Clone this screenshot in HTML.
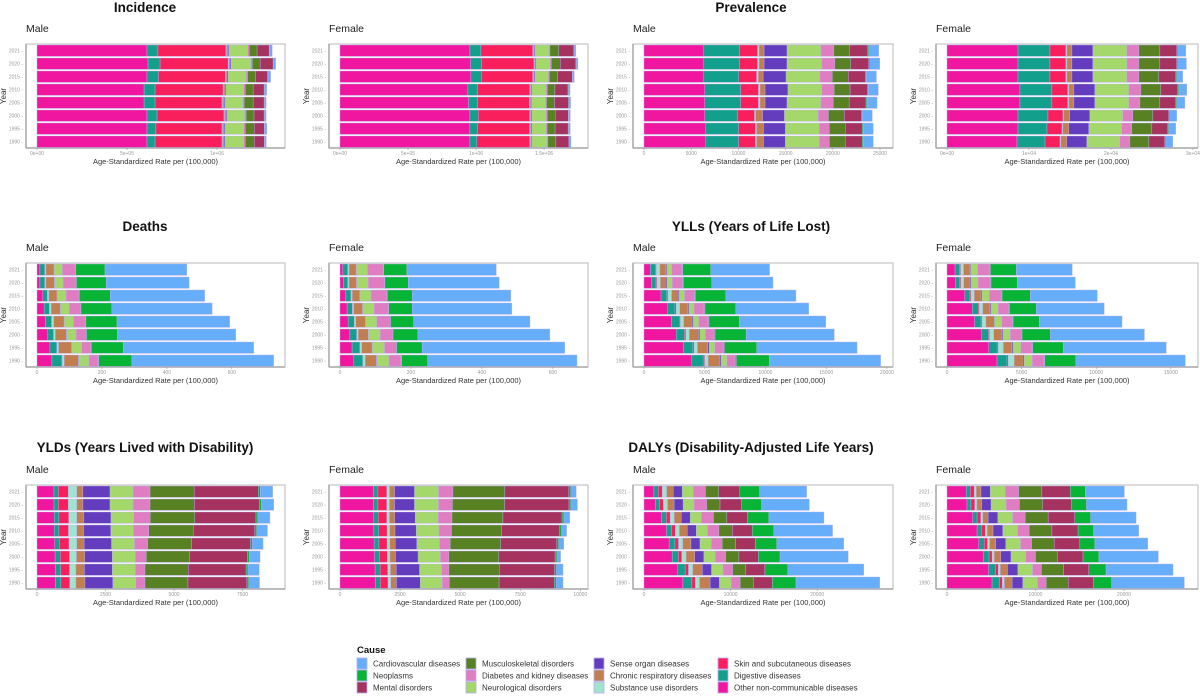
<!DOCTYPE html>
<html><head><meta charset="utf-8">
<style>
html,body{margin:0;padding:0;background:#fff;}
svg{display:block;font-family:"Liberation Sans",Arial,sans-serif;}
</style></head>
<body>
<svg id="chart" width="1200" height="696" viewBox="0 0 1200 696" xmlns="http://www.w3.org/2000/svg"></svg>
<script>
// ---- data ----
const years = ["2021","2020","2015","2010","2005","2000","1995","1990"];
const causes = ["Other non-communicable diseases","Digestive diseases","Skin and subcutaneous diseases","Substance use disorders","Chronic respiratory diseases","Sense organ diseases","Neurological disorders","Diabetes and kidney diseases","Musculoskeletal disorders","Mental disorders","Neoplasms","Cardiovascular diseases"];
const causeColors = ["#F0169F","#12A08C","#F81F5C","#9FE4CE","#C17F50","#643CBE","#A4D86A","#E07DC2","#588124","#A5325F","#08B436","#66AEF9"];

const incMale = [
[611,61,378,3,6,6,106,8,44,67,3,14],
[617,67,378,3,6,6,111,8,44,72,3,11],
[611,64,372,3,6,6,100,8,44,67,3,14],
[595,61,378,3,6,6,100,8,44,61,3,11],
[595,61,372,3,6,6,100,8,50,61,3,8],
[611,56,372,3,6,6,100,8,44,56,3,8],
[611,50,367,3,6,6,106,8,50,56,3,11],
[611,45,372,3,6,6,106,8,50,56,3,8]];
const incFemale = [
[955,81,382,4,4,7,103,7,66,110,4,11],
[960,81,385,4,4,7,105,7,66,115,4,11],
[962,77,378,4,4,7,100,7,62,106,4,11],
[940,70,386,4,4,7,106,7,56,96,4,11],
[945,66,382,4,4,7,103,7,59,103,4,11],
[955,62,378,4,4,7,106,7,59,96,4,11],
[955,55,384,4,4,7,106,7,59,96,4,11],
[955,51,390,4,4,7,110,7,59,96,4,11]];
const prevMale = [
[6330,3800,1900,160,530,2430,3590,1370,1690,1900,110,1060],
[6330,3800,1900,160,530,2430,3690,1370,1690,1900,110,1060],
[6330,3700,1900,160,530,2430,3590,1300,1690,1820,110,1060],
[6430,3800,1900,160,530,2430,3590,1300,1690,1820,110,1060],
[6430,3800,1900,160,530,2330,3590,1300,1690,1790,110,1060],
[6440,3480,1790,110,740,2320,3590,1060,1690,1790,110,1060],
[6540,3480,1790,110,740,2320,3590,1060,1690,1790,110,1060],
[6540,3480,1790,110,740,2320,3590,1060,1690,1790,110,1060]];
const prevFemale = [
[8660,3900,1950,120,610,2560,4150,1460,2560,2070,120,980],
[8660,3900,1950,120,610,2560,4150,1460,2560,2070,120,1050],
[8660,3900,1950,120,610,2560,4150,1460,2440,2070,120,730],
[8900,3900,1950,120,610,2560,4150,1460,2440,2070,120,980],
[8900,3900,1950,120,610,2560,4150,1340,2440,1950,120,980],
[8660,3660,1830,100,730,2440,4030,1220,2440,1950,100,860],
[8660,3540,1830,100,730,2440,4030,1220,2440,1950,100,860],
[8540,3420,1830,100,730,2440,4030,1220,2320,1950,100,860]];
const deathMale = [
[9,15,0.5,3,25,1,25,40,0.5,0.5,90,252],
[9,15,0.5,3,26,1,26,40,0.5,0.5,92,255],
[18,14,0.5,4,25,1,27,40,0.5,0.5,95,291],
[22,16,0.5,5,28,1,27,35,0.5,0.5,95,309],
[26,19,0.5,6,32,1,28,37,0.5,0.5,96,347],
[33,18,0.5,5,34,1,29,31,0.5,0.5,95,365],
[40,21,0.5,5,40,1,30,29,0.5,0.5,98,402],
[46,31,1,6,43,2,31,28,1,1,102,437]];
const deathFemale = [
[8,14,0.5,3,20,1,31,45,0.5,0.5,65,252],
[9,13,0.5,3,21,1,32,46,0.5,0.5,66,256],
[16,15,0.5,3,21,1,31,45,0.5,0.5,70,278],
[20,15,0.5,3,25,1,32,40,0.5,0.5,66,281],
[23,17,0.5,4,27,1,31,38,0.5,0.5,65,328],
[28,19,0.5,4,28,1,33,35,0.5,0.5,70,372],
[34,22,0.5,5,29,1,34,33,0.5,0.5,72,402],
[39,25,1,6,31,2,34,34,1,1,73,421]];
const yllMale = [
[530,410,80,290,490,80,410,820,40,40,2300,4850],
[600,390,80,280,480,80,420,830,40,40,2340,5040],
[1400,480,90,300,560,80,430,810,40,40,2500,5780],
[1950,600,100,290,650,90,440,800,50,50,2540,6000],
[2250,650,100,260,700,90,450,750,50,50,2500,7120],
[2650,680,110,290,760,100,460,700,50,50,2560,7250],
[3250,760,110,280,850,110,470,680,60,60,2650,8260],
[3930,940,120,290,940,120,490,660,60,60,2710,9160]];
const yllFemale = [
[540,300,70,200,400,70,470,800,30,30,1740,3740],
[560,290,70,200,420,70,470,810,30,30,1760,3890],
[1200,340,70,220,450,70,480,800,30,30,1900,4480],
[1700,400,70,230,470,70,490,700,30,30,1800,4540],
[1850,430,70,260,500,70,500,690,30,30,1750,5550],
[2300,480,70,280,530,80,510,720,30,30,1900,6300],
[2800,560,80,340,560,80,520,740,30,30,2050,6900],
[3350,670,80,400,600,80,540,770,30,30,2080,7340]];
const yldMale = [
[620,160,365,310,220,990,840,620,1610,2340,70,455],
[620,160,365,310,220,990,840,620,1620,2370,70,455],
[630,170,360,290,260,990,830,600,1630,2230,70,440],
[630,170,350,300,250,990,830,560,1620,2250,70,390],
[650,180,340,280,270,1000,840,480,1600,2150,70,390],
[660,190,340,250,300,1010,840,400,1580,2110,70,390],
[670,190,330,230,310,1020,840,350,1580,2110,70,410],
[670,200,330,220,330,1020,840,330,1570,2150,70,390]];
const yldFemale = [
[1390,190,370,110,210,830,1000,600,2160,2660,80,230],
[1390,190,370,110,210,830,1000,580,2170,2680,80,270],
[1400,190,360,110,220,850,960,570,2120,2460,80,240],
[1410,200,350,110,220,880,950,520,2090,2410,80,210],
[1420,200,340,110,230,900,940,450,2100,2330,80,210],
[1440,200,330,110,230,940,930,350,2080,2340,80,150],
[1460,210,320,110,240,970,920,300,2100,2300,80,270],
[1470,210,320,110,240,990,920,290,2070,2300,80,280]];
const dalyMale = [
[1150,500,460,500,770,1040,1260,1420,1530,2420,2300,5430],
[1300,480,460,480,760,1040,1270,1450,1540,2450,2340,5520],
[2000,580,440,480,800,1040,1280,1400,1550,2350,2500,6360],
[2600,600,420,470,900,1050,1290,1320,1540,2300,2500,6780],
[2900,680,410,480,950,1050,1300,1260,1540,2300,2450,7750],
[3250,720,400,490,1000,1060,1310,1200,1530,2250,2500,7860],
[3900,850,390,500,1100,1060,1330,1100,1530,2200,2650,8770],
[4490,1040,380,500,1230,1070,1350,1040,1530,2190,2730,9670]];
const dalyFemale = [
[2180,450,450,230,530,1050,1700,1500,2630,3200,1700,4420],
[2260,450,440,230,540,1060,1700,1500,2640,3220,1720,4580],
[2900,500,420,230,600,1080,1680,1420,2600,3000,1800,5130],
[3400,520,400,230,650,1100,1680,1300,2580,2950,1750,5100],
[3600,600,380,230,700,1130,1670,1250,2550,2900,1700,5970],
[4100,650,350,230,750,1150,1670,1100,2520,2850,1800,6710],
[4700,780,320,230,800,1180,1660,1000,2500,2850,1950,7570],
[5090,870,300,230,870,1210,1660,980,2490,2830,2070,8220]];

const tickIncM = [0,500,1000], tickIncMLab = ["0e+00","5e+05","1e+06"];
const tickIncF = [0,500,1000,1500], tickIncFLab = ["0e+00","5e+05","1e+06","1.5e+06"];
const tickPrevM = [0,5000,10000,15000,20000,25000], tickPrevMLab = ["0","5000","10000","15000","20000","25000"];
const tickPrevF = [0,10000,20000,30000], tickPrevFLab = ["0e+00","1e+04","2e+04","3e+04"];
const tickDeath = [0,200,400,600], tickDeathLab = ["0","200","400","600"];
const tickYllM = [0,5000,10000,15000,20000], tickYllMLab = ["0","5000","10000","15000","20000"];
const tickYllF = [0,5000,10000,15000], tickYllFLab = ["0","5000","10000","15000"];
const tickYldM = [0,2500,5000,7500], tickYldMLab = ["0","2500","5000","7500"];
const tickYldF = [0,2500,5000,7500,10000], tickYldFLab = ["0","2500","5000","7500","10000"];
const tickDaly = [0,10000,20000], tickDalyLab = ["0","10000","20000"];
const domains = [1378,1823,26375,30620,764,699,20500,16820,9050,10320,28750,28360];

// ---- drawing ----
const NS="http://www.w3.org/2000/svg";
const svg=document.getElementById('chart');
function mk(tag,attrs,parent,text){const e=document.createElementNS(NS,tag);for(const k in attrs)e.setAttribute(k,attrs[k]);if(text!==undefined)e.textContent=text;(parent||svg).appendChild(e);return e;}

const colLeft=[26,329,633,936], colRight=[285,588,893,1198];
const rowTop=[44,263,485], rowTitleY=[12,231,452], plotH=104;
const titles=[["Incidence","Prevalence"],["Deaths","YLLs (Years of Life Lost)"],["YLDs (Years Lived with Disability)","DALYs (Disability-Adjusted Life Years)"]];
const titleCx=[145,751];

const panels=[
 [incMale,tickIncM,tickIncMLab],[incFemale,tickIncF,tickIncFLab],[prevMale,tickPrevM,tickPrevMLab],[prevFemale,tickPrevF,tickPrevFLab],
 [deathMale,tickDeath,tickDeathLab],[deathFemale,tickDeath,tickDeathLab],[yllMale,tickYllM,tickYllMLab],[yllFemale,tickYllF,tickYllFLab],
 [yldMale,tickYldM,tickYldMLab],[yldFemale,tickYldF,tickYldFLab],[dalyMale,tickDaly,tickDalyLab],[dalyFemale,tickDaly,tickDalyLab]];

for(let r=0;r<3;r++){
  for(let h=0;h<2;h++){
    const t=mk('text',{x:titleCx[h],y:rowTitleY[r],'text-anchor':'middle','font-size':13.5,'font-weight':'bold',fill:'#111'},svg,titles[r][h]);
    
    
  }
}

for(let p=0;p<12;p++){
  const r=Math.floor(p/4), c=p%4;
  const [rows,ticks,tlabs]=panels[p];
  const g=mk('g',{});
  
  
  const L=colLeft[c], R=colRight[c], T=rowTop[r], B=T+plotH;
  const x0=L+11, W=R-x0, dom=domains[p];
  const xs=v=>x0+v/dom*W;
  const st=mk('text',{x:L,y:T-12,'font-size':10.5,fill:'#222'},g,c%2===0?'Male':'Female');
  
  
  const bg=mk('rect',{x:L,y:T,width:R-L,height:plotH,fill:'#fff',stroke:'#c4c4c4','stroke-width':1.2},g);
  
  
  mk('line',{x1:L,y1:T,x2:L,y2:B,stroke:'#aaa','stroke-width':1.5},g);
  mk('line',{x1:L,y1:B,x2:R,y2:B,stroke:'#aaa','stroke-width':1.5},g);
  const band=plotH/8;
  rows.forEach((vals,i)=>{
    const y=T+i*band+1, bh=band-1.6;
    let acc=0;
    vals.forEach((v,k)=>{
      const rc=mk('rect',{x:xs(acc),y:y,width:Math.max(0,xs(acc+v)-xs(acc)),height:bh,fill:causeColors[k],stroke:'#b9aef0','stroke-width':0.4},g);
      
      
      acc+=v;
    });
    const yl=mk('text',{x:L-3,y:y+bh/2+2,'text-anchor':'end','font-size':5,fill:'#999'},g,years[i]+' -');
    
    
  });
  ticks.forEach((tv,i)=>{
    mk('line',{x1:xs(tv),y1:B,x2:xs(tv),y2:B+2,stroke:'#999','stroke-width':0.6},g);
    const tl=mk('text',{x:xs(tv),y:B+7,'text-anchor':'middle','font-size':5,fill:'#999'},g,tlabs[i]);
    
    
  });
  const xt=mk('text',{x:(L+R)/2,y:B+16,'text-anchor':'middle','font-size':7.5,fill:'#333'},g,'Age-Standardized Rate per (100,000)');
  
  
  const yt=mk('text',{x:0,y:0,'text-anchor':'middle','font-size':8,fill:'#333',transform:`translate(${L-20},${(T+B)/2}) rotate(-90)`},g,'Year');
  
  
}

// legend
const lg=mk('g',{});


const lt=mk('text',{x:357,y:653,'font-size':9.5,'font-weight':'bold',fill:'#111'},lg,'Cause');


const legendOrder=[11,10,9,8,7,6,5,4,3,2,1,0];
const legX=[357,466,594,718];
legendOrder.forEach((ci,j)=>{
  const col=Math.floor(j/3), row=j%3;
  const x=legX[col], y=658+row*12;
  const sw=mk('rect',{x:x,y:y,width:10,height:11,fill:causeColors[ci],stroke:'#b9aef0','stroke-width':0.8},lg);
  
  
  const tx=mk('text',{x:x+16,y:y+8.5,'font-size':8,fill:'#333'},lg,causes[ci]);
  
  
});
</script>
</body></html>
